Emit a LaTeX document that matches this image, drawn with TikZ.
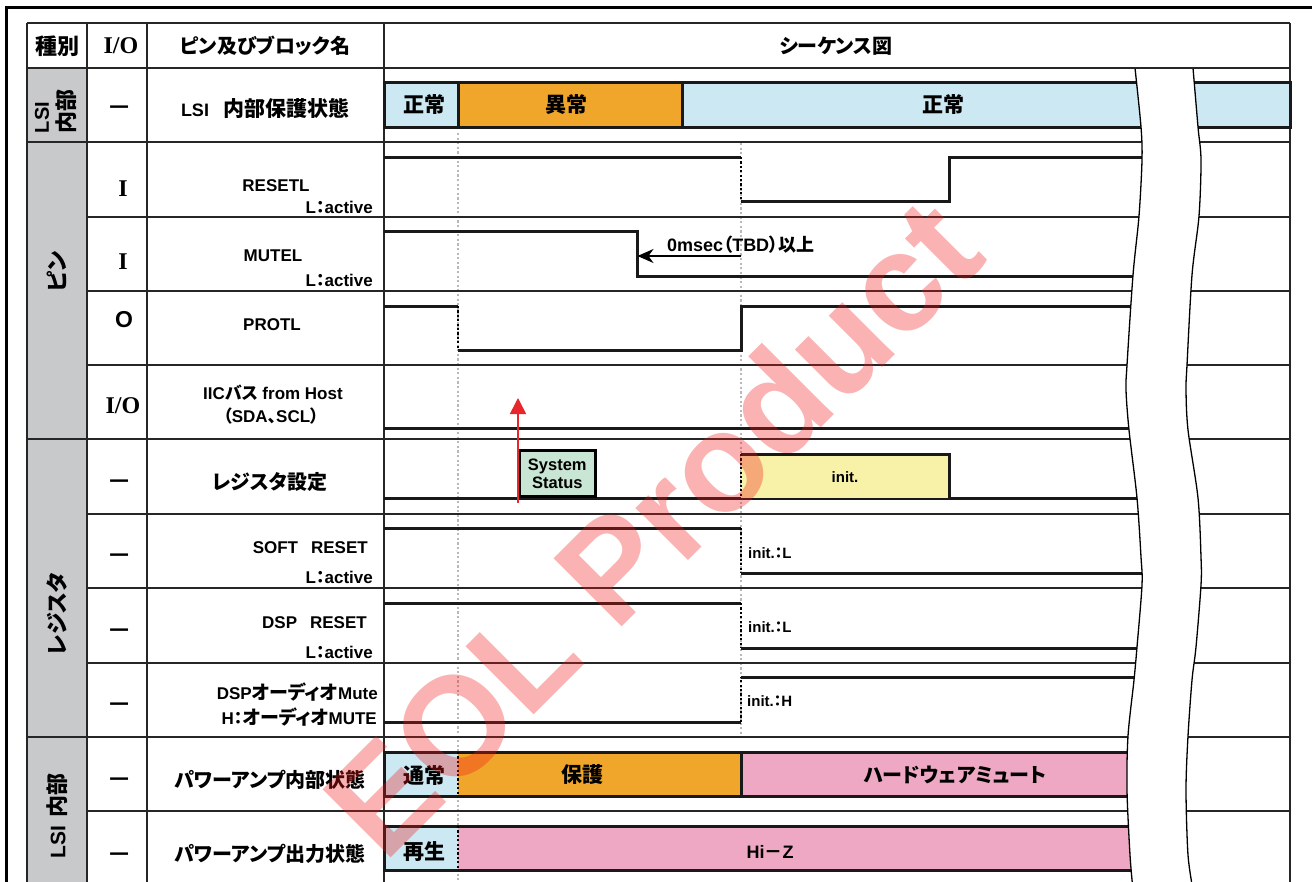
\documentclass[tikz,border=0pt]{standalone}
\usepackage{fontspec}
\setmainfont{Liberation Sans}
\newfontfamily\jp{Noto Sans CJK JP}[RawFeature=+palt]
\newfontfamily\rom{Liberation Serif}
\usetikzlibrary{arrows.meta}
\definecolor{lblue}{HTML}{CCE8F2}
\definecolor{aorange}{HTML}{F0A52B}
\definecolor{apink}{HTML}{EFA8C3}
\definecolor{ayellow}{HTML}{F8F1A8}
\definecolor{agreen}{HTML}{C9E6D4}
\definecolor{cgray}{HTML}{C8C9CB}
\definecolor{wmred}{HTML}{F01818}
\definecolor{ared}{HTML}{E8262B}
\newcommand\fs[1]{\fontsize{#1}{#1}\selectfont}
\begin{document}
\begin{tikzpicture}[x=1pt,y=-1pt,
 every node/.style={inner sep=0pt, font=\bfseries},
 grid/.style={line width=1.4pt, black!85},
 sig/.style={line width=3pt, black!90},
 bord/.style={line width=3pt, black!90},
 gdot/.style={line width=2.2pt, black!28, dash pattern=on 2.2pt off 2.4pt},
 bdot/.style={line width=2.6pt, black, dash pattern=on 2.2pt off 2.2pt},
 jl/.style={font=\jp\bfseries\fs{20}},
 ll/.style={font=\bfseries\fs{17}},
 sl/.style={font=\bfseries\fs{15}},
 io/.style={font=\rom\bfseries\fs{24}},
 dashtxt/.style={font=\jp\bfseries\fs{22}},
 cat/.style={rotate=90, font=\jp\bfseries\fs{22}},
 bl/.style={font=\jp\bfseries\fs{21}}
]
\useasboundingbox (0,0) rectangle (1312,881);
\fill[white] (0,0) rectangle (1312,881);
% outer frame
\draw[line width=3pt] (6.5,890) -- (6.5,7.5) -- (1320,7.5);
% category column
\fill[cgray] (27,68) rectangle (87,890);
% grey dotted guide lines
\draw[gdot] (458,133) -- (458,890);
\draw[gdot] (741,143) -- (741,737);
% grid
\draw[grid] (27,23) -- (1290,23);
\draw[grid] (27,68) -- (1290,68);
\foreach \yy in {142,439,737} \draw[grid] (27,\yy) -- (1290,\yy);
\foreach \yy in {217,291,365,514,588,663,811} \draw[grid] (87,\yy) -- (1290,\yy);
\foreach \xx in {27,87,147,384,1290} \draw[grid] (\xx,23) -- (\xx,890);
% LSI protection state bar
\draw[bord, fill=lblue] (384,82) rectangle (458,127);
\draw[bord, fill=aorange] (458,82) rectangle (682,127);
\draw[bord, fill=lblue] (682,82) rectangle (1290,127);
% RESETL
\draw[sig] (384,157) -- (741,157);
\draw[bdot] (741,157) -- (741,201);
\draw[sig] (741,201) -- (949,201) -- (949,157) -- (1165,157);
% MUTEL
\draw[sig] (384,231) -- (637,231) -- (637,276) -- (1165,276);
\coordinate (mA) at (741,256);
\coordinate (mB) at (637.5,256);
\draw[line width=1.3pt, -{Stealth[length=16pt,width=14pt,inset=5pt]}] (mA) -- (mB);
% PROTL
\draw[sig] (384,306) -- (458,306);
\draw[bdot] (458,306) -- (458,350);
\draw[sig] (458,350) -- (741,350) -- (741,306) -- (1165,306);
% IIC
\draw[sig] (384,428) -- (1165,428);
% register setting
\draw[sig] (384,498) -- (1165,498);
\fill[ayellow] (741,454) rectangle (949,498);
\draw[sig] (741,454) -- (949,454) -- (949,498);
\draw[bdot] (741,454) -- (741,498);
\node[draw, line width=2.6pt, fill=agreen, minimum width=76pt, minimum height=46pt, anchor=south west,
  align=center, font=\bfseries\fs{16.5}, inner sep=0pt] (sys) at (518,498) {System\\[1pt]Status};
\coordinate (rA) at (518,503);
\coordinate (rB) at (518,398);
\draw[ared, line width=1.6pt, -{Triangle[length=16pt,width=16pt]}] (rA) -- (rB);
\node[sl] (ini) at (845,477) {init.};
% SOFT RESET
\draw[sig] (384,528) -- (741,528);
\draw[bdot] (741,528) -- (741,573);
\draw[sig] (741,573) -- (1165,573);
\node[sl, anchor=west] (i1) at (748,553) {init.{\jp：}L};
% DSP RESET
\draw[sig] (384,603) -- (741,603);
\draw[bdot] (741,603) -- (741,648);
\draw[sig] (741,648) -- (1165,648);
\node[sl, anchor=west] (i2) at (748,627) {init.{\jp：}L};
% DSP audio mute
\draw[sig] (384,722) -- (741,722);
\draw[bdot] (741,722) -- (741,677);
\draw[sig] (741,677) -- (1165,677);
\node[sl, anchor=west] (i3) at (747,701) {init.{\jp：}H};
% power amp internal
\fill[lblue] (384,752) rectangle (458,796);
\fill[aorange] (458,752) rectangle (741,796);
\fill[apink] (741,752) rectangle (1165,796);
\draw[bord] (1165,752) -- (384,752) -- (384,796) -- (1165,796);
\draw[bord] (741,752) -- (741,796);
\draw[bdot] (458,752) -- (458,796);
% power amp output
\fill[lblue] (384,826) rectangle (458,870);
\fill[apink] (458,826) rectangle (1165,870);
\draw[bord] (1165,826) -- (384,826) -- (384,870) -- (1165,870);
\draw[bdot] (458,826) -- (458,870);
% break band
\fill[white] plot[smooth] coordinates {(1135,68) (1141,127) (1142,160) (1139,216) (1133,275) (1127,365) (1126,390) (1129,430) (1137,498) (1141,557) (1142,585) (1137,647) (1134,680) (1128,736) (1127,790) (1130,855) (1133,890)}
  -- plot[smooth] coordinates {(1193,890) (1188,855) (1186,790) (1188,736) (1192,680) (1196,647) (1201,585) (1201,557) (1198,498) (1188,430) (1186,390) (1187,365) (1192,275) (1199,216) (1201,160) (1198,127) (1193,68)} -- cycle;
\draw[line width=1.3pt] plot[smooth] coordinates {(1135,68) (1141,127) (1142,160) (1139,216) (1133,275) (1127,365) (1126,390) (1129,430) (1137,498) (1141,557) (1142,585) (1137,647) (1134,680) (1128,736) (1127,790) (1130,855) (1133,890)};
\draw[line width=1.3pt] plot[smooth] coordinates {(1193,890) (1188,855) (1186,790) (1188,736) (1192,680) (1196,647) (1201,585) (1201,557) (1198,498) (1188,430) (1186,390) (1187,365) (1192,275) (1199,216) (1201,160) (1198,127) (1193,68)};
\draw[grid] (1130,68) -- (1198,68);
% header texts
\node[font=\jp\bfseries\fs{22}] (h1) at (57,46) {種別};
\node[io] (h2) at (121,46) {I/O};
\node[jl] (h3) at (265,46) {ピン及びブロック名};
\node[jl] (h4) at (836,46) {シーケンス図};
% category texts
\node[cat, align=left] (c1) at (56,111) {{\rmfamily\bfseries\fs{20}LSI}\\[4pt]内部};
\node[cat] (c2) at (57,272) {ピン};
\node[cat] (c3) at (57,614) {レジスタ};
\node[cat] (c4) at (57,816) {{\rmfamily\bfseries\fs{21}LSI}\hspace{8pt}内部};
% I/O column
\node[dashtxt] (d1) at (120,110) {—};
\node[io] (o2) at (123,189) {I};
\node[io] (o3) at (123,262) {I};
\node[font=\bfseries\fs{23}] (o4) at (124,320) {O};
\node[io] (o5) at (123,406) {I/O};
\node[dashtxt] (d6) at (120,484) {—};
\node[dashtxt] (d7) at (120,558) {—};
\node[dashtxt] (d8) at (120,633) {—};
\node[dashtxt] (d9) at (120,707) {—};
\node[dashtxt] (d10) at (120,782) {—};
\node[dashtxt] (d11) at (120,857) {—};
% row labels
\node[ll] (r1) at (265,108) {{\fs{18}LSI}\hspace{14pt}{\jp\fs{21}内部保護状態}};
\node[ll] (r2) at (276,186) {RESETL};
\node[ll, anchor=east] (r2b) at (373,207) {L{\jp ：}active};
\node[ll] (r3) at (273,256) {MUTEL};
\node[ll, anchor=east] (r3b) at (373,280) {L{\jp ：}active};
\node[ll] (r4) at (272,325) {PROTL};
\node[ll] (r5) at (273,393) {IIC{\jp バス} from Host};
\node[ll] (r5b) at (271,416) {{\jp （}SDA{\jp 、}SCL{\jp ）}};
\node[jl] (r6) at (270,482) {レジスタ設定};
\node[ll, anchor=east] (r7) at (368,548) {SOFT\hspace{13pt}RESET};
\node[ll, anchor=east] (r7b) at (373,577) {L{\jp ：}active};
\node[ll, anchor=east] (r8) at (367,623) {DSP\hspace{13pt}RESET};
\node[ll, anchor=east] (r8b) at (373,652) {L{\jp ：}active};
\node[ll, anchor=east] (r9) at (378,692) {DSP{\jp\fs{19}オーディオ}Mute};
\node[ll, anchor=east] (r9b) at (377,717) {H{\jp ：\fs{19}オーディオ}MUTE};
\node[jl] (r10) at (270,780) {パワーアンプ内部状態};
\node[jl] (r11) at (270,854) {パワーアンプ出力状態};
% bar labels
\node[bl] (b1) at (424,105) {正常};
\node[bl] (b2) at (566,105) {異常};
\node[bl] (b3) at (943,105) {正常};
\node[bl] (b4) at (424,775) {通常};
\node[bl] (b5) at (582,775) {保護};
\node[bl, font=\jp\bfseries\fs{20}] (b6) at (955,775) {ハードウェアミュート};
\node[bl] (b7) at (424,852) {再生};
\node[font=\bfseries\fs{18}] (b8) at (770,852) {Hi{\jp －}Z};
% timing annotation
\node[font=\bfseries\fs{18}, anchor=west] (t1) at (667,245) {0msec{\jp （}TBD{\jp ）以上}};
% watermark
\node[rotate=45, text=wmred, opacity=0.33, font=\bfseries\fs{140}] (wm) at (652,527) {EOL Product};
\end{tikzpicture}
\end{document}
